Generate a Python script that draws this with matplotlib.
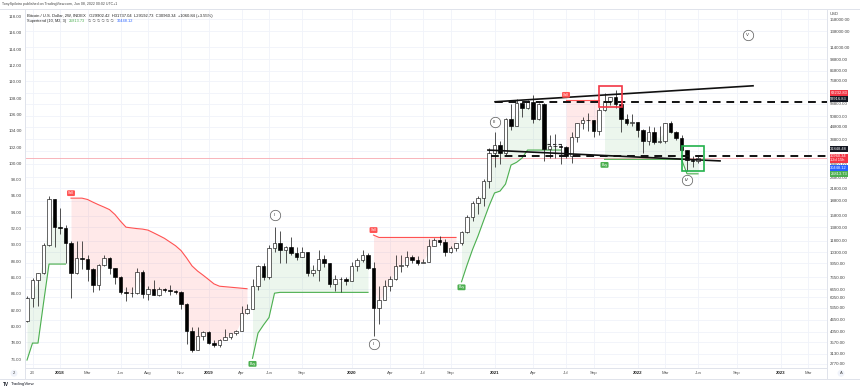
import numpy as np
import matplotlib
matplotlib.use("Agg")
import matplotlib.pyplot as plt
import matplotlib.transforms as mtransforms
from matplotlib.lines import Line2D
from matplotlib.patches import Rectangle
from matplotlib.ticker import NullLocator

plt.rcParams['font.family'] = ['Liberation Sans', 'DejaVu Sans']

# Bitcoin / U.S. Dollar, 2W candles. bar -1 = week of 9 Oct 2017, bar 121 = 6 Jun 2022
opens = [4600, 5980, 7400, 8050, 11250, 19100,
         13850, 13600, 11500, 8100, 9600, 9550, 8450, 7000, 8900, 9650, 8500, 7700, 6450, 6380,
         6350, 8200, 6300, 6700, 6250, 6700, 6600, 6550, 6450, 5600, 4100, 3250, 3850,
         4050, 3550, 3450, 3650, 3800, 3980, 4100, 5050, 5300, 6950, 8750, 7650, 10750, 11400,
         10600, 10900, 10250, 9750, 10300, 8100, 8300, 9550, 9050, 7050, 7550, 7500,
         7350, 8700, 9350, 9900, 8550, 5350, 5900, 6900, 7550, 8750, 8800, 9750, 9350, 9100,
         9200, 11100, 11900, 11650, 10350, 10750, 11400, 13050, 15500, 18400, 19350, 23800,
         33000, 36000, 33100, 48900, 45200, 59000, 55800, 60000, 49100, 58300, 34700, 35800,
         35600, 35300, 31800, 39900, 47000, 48800, 48300, 42800, 54700, 60900, 63300, 58700,
         49400, 46700,
         47300, 43100, 37900, 42200, 37700, 37800, 46800, 42200, 39500, 34100, 30300, 29902.42]
highs = [6180, 7600, 8100, 11400, 19800, 19200,
         17200, 14100, 11700, 11800, 11700, 9900, 8500, 9000, 9950, 9700, 8550, 7800, 6800, 6850,
         8500, 8300, 6900, 7400, 6800, 6750, 7000, 6600, 6550, 5650, 4300, 4300, 4100,
         4100, 3650, 3700, 4200, 4000, 4150, 5450, 5600, 7500, 8800, 9100, 11200, 13800, 13200,
         11100, 12300, 10950, 10900, 10350, 8900, 10500, 9900, 9100, 7850, 7650, 7700,
         9200, 9600, 10500, 10250, 9200, 6900, 7450, 7800, 10000, 9950, 10400, 10000, 9800, 9450,
         12000, 12100, 12450, 12050, 11100, 11450, 13250, 15950, 18800, 19900, 24300, 34800,
         41950, 37800, 49700, 58350, 61800, 61000, 61200, 64900, 59500, 59600, 40900, 41300,
         36700, 35900, 42300, 47100, 50500, 52900, 48800, 56500, 67000, 63700, 69000, 59300,
         51900, 52000,
         47500, 43500, 45000, 44800, 45400, 47000, 48200, 42900, 40800, 34300, 31900, 31737.04]
lows = [4550, 5400, 5500, 8000, 11000, 10900,
        12800, 9100, 6000, 8000, 8400, 7300, 6450, 6600, 8700, 8000, 7050, 6300, 5800, 6050,
        6300, 6000, 5900, 6200, 6150, 6450, 6200, 6300, 5300, 3500, 3200, 3250, 3650,
        3500, 3400, 3380, 3650, 3700, 3900, 4100, 5000, 5300, 6600, 7450, 7550, 10300, 9100,
        9100, 9900, 9350, 9700, 7750, 7800, 7350, 8650, 6800, 6550, 6450, 7000,
        7300, 8250, 9150, 8450, 3850, 4450, 5850, 6500, 7450, 8200, 8650, 9100, 8850, 9050,
        9150, 11000, 11200, 9850, 10150, 10400, 11200, 12900, 14800, 16200, 17600, 21900,
        28000, 29000, 32300, 43000, 45000, 50400, 55000, 47000, 48800, 30000, 31000, 31000,
        28800, 31000, 29300, 37400, 43900, 42800, 40000, 40700, 53900, 58000, 55600, 42000,
        45600, 45500,
        39600, 32900, 36300, 36800, 37100, 37200, 41900, 38600, 33700, 26700, 28000, 29192.73]
closes = [5980, 7400, 8050, 11250, 19100, 13850,
          13600, 11500, 8100, 9600, 9550, 8450, 7000, 8900, 9650, 8500, 7700, 6450, 6380, 6350,
          8200, 6300, 6700, 6250, 6700, 6600, 6550, 6450, 5600, 4100, 3250, 3850, 4050,
          3550, 3450, 3650, 3800, 3980, 4100, 5050, 5300, 6950, 8750, 7650, 10750, 11400, 10600,
          10900, 10250, 9750, 10300, 8100, 8300, 9550, 9050, 7050, 7550, 7500, 7350,
          8700, 9350, 9900, 8550, 5350, 5900, 6900, 7550, 8750, 8800, 9750, 9350, 9100, 9200,
          11100, 11900, 11650, 10350, 10750, 11400, 13050, 15500, 18400, 19350, 23800, 33000,
          36000, 33100, 48900, 45200, 59000, 55800, 60000, 49100, 58300, 34700, 35800, 35600,
          35300, 31800, 39900, 47000, 48800, 48300, 42800, 54700, 60900, 63300, 58700, 49400,
          46700, 47300,
          43100, 37900, 42200, 37700, 37800, 46800, 42200, 39500, 34100, 30300, 29902.42, 30960.34]
first_bar = -1

# Supertrend segments (first bar, values)
up_segments = [
    (-1, [2900, 3540, 3540, 5660, 8950, 8950, 8950, 8950]),
    (40, [2960, 3980, 4380, 4780, 6360] + [6420] * 17),
    (78, [7270, 8840, 10610, 12450, 14860, 17690, 20620, 21080, 22890, 28620, 29540, 31060]
         + [34120] * 7),
    (104, [30600] * 15 + [25813.73] * 3),
]
down_segments = [
    (7, [19400, 19400, 19400, 19100, 18500, 17960, 17470, 16960, 16000, 14800, 13800, 13680,
         13570, 13490, 13330, 12920, 12510, 12100, 11590, 11100, 10490, 9630, 8760, 8250,
         7860, 7470, 7090, 6900, 6860, 6820, 6780, 6740, 6700]),
    (62, [12580] + [12230] * 15),
    (97, [61500] * 7),
]

# time axis
tick_bars = [0, 5, 10, 16, 21, 27, 32, 38, 43, 49, 58, 65, 71, 76, 84, 91, 97, 102,
             110, 115, 121, 128, 136, 141]
tick_labels = ["23", "2018", "Mar", "Jun", "Aug", "Nov", "2019", "Apr", "Jun", "Sep",
               "2020", "Apr", "Jul", "Sep", "2021", "Apr", "Jul", "Sep", "2022", "Mar",
               "Jun", "Sep", "2023", "Mar"]

price_ticks = [158000, 138000, 114000, 98800, 86800, 76800, 66800, 58800, 50800, 44800,
               38800, 33800, 28800, 24800, 21800, 18800, 15800, 13800, 11800, 10300, 9050,
               7650, 6650, 6050, 5350, 4650, 4050, 3570, 3130, 2770]
left_ticks = list(range(76, 120, 2))

# drawings
trend_upper = ([84.1, 131.0], [60140, 72550])
trend_lower = ([82.8, 125.0], [34120, 30040])
hlines = [(84.1, 59916.83), (83.4, 31848.48)]
short_dash = ([93.5, 96.2], [36600, 36600])
red_box = (103.0, 107.1, 56300, 72550)
green_box = (118.0, 122.1, 26760, 35880)
waves = [("I", 44, 15920), ("II", 62, 3490), ("III", 84, 47560), ("IV", 119, 24000),
         ("V", 130, 131900)]
signals = [("Sell", 7), ("Buy", 40), ("Sell", 62), ("Buy", 78), ("Sell", 97), ("Buy", 104)]
tags = [("63232.83", 63232.83, "#f23645", -4.4), ("59916.83", 59916.83, "#131722", -3.0),
        ("31848.48", 31848.48, "#131722", -7.0), ("30960.34\n12d 15h", 30960.34, "#f23645", 0.0),
        ("30448.12", 30448.12, "#2962ff", 8.2), ("25813.73", 25813.73, "#4caf50", 0.0)]

W, H = 860, 390
fig = plt.figure(figsize=(W / 100, H / 100), dpi=100)


def fx(px):
    return px / W


def fy(py):
    return 1 - py / H


ax = fig.add_axes([fx(25), fy(368), fx(827) - fx(25), fy(9) - fy(368)])
ax2 = ax.twinx()
ax.set_yscale('log')
ax.set_ylim(2642, 178700)
ax.set_xlim(-1.364, 144.45)

o = np.array(opens, float)
h = np.array(highs, float)
l = np.array(lows, float)
c = np.array(closes, float)
x = np.arange(first_bar, first_bar + len(o))
mid = (o + h + l + c) / 4

# supertrend lines and fills
for start, vals in up_segments:
    xs = np.arange(start, start + len(vals))
    m = mid[xs - first_bar]
    ax.fill_between(xs, vals, m, color='#4caf50', alpha=0.1, lw=0, zorder=1)
    ax.plot(xs, vals, color='#4caf50', lw=0.8, zorder=2)
for start, vals in down_segments:
    xs = np.arange(start, start + len(vals))
    m = mid[xs - first_bar]
    ax.fill_between(xs, vals, m, color='#ff5252', alpha=0.12, lw=0, zorder=1)
    ax.plot(xs, vals, color='#ff5252', lw=0.8, zorder=2)

# price line
ax.axhline(closes[-1], color='#f7a8b0', lw=0.6, zorder=1.5)

# candles
up = c >= o
ax.vlines(x, l, h, color='#222222', lw=0.55, zorder=3)
ax.bar(x[up], c[up] - o[up], bottom=o[up], width=0.62, color='white', edgecolor='#111111',
       lw=0.45, zorder=4)
ax.bar(x[~up], o[~up] - c[~up], bottom=c[~up], width=0.62, color='#000000', edgecolor='#000000',
       lw=0.45, zorder=4)

# drawings
ax.plot(*trend_upper, color='#111111', lw=1.2, zorder=6)
ax.plot(*trend_lower, color='#111111', lw=1.2, zorder=6)
for x0, p in hlines:
    ax.plot([x0, 144.45], [p, p], color='#111111', lw=1.4, ls=(0, (4, 3)), zorder=6)
ax.plot(*short_dash, color='#333333', lw=0.8, ls=(0, (3, 2)), zorder=6)
for (x0, x1, p0, p1), col in [(red_box, '#f23645'), (green_box, '#22b14c')]:
    ax.add_patch(Rectangle((x0, p0), x1 - x0, p1 - p0, fill=False, ec=col, lw=1.2, zorder=7))

for txt, b, p in waves:
    ax.plot(b, p, marker='o', ms=7.5, mfc='white', mec='#555555', mew=0.5, zorder=8)
    ax.text(b, p, txt, ha='center', va='center', fontsize=3.2, color='#333333', zorder=9)

up_start = {s: v[0] for s, v in up_segments}
dn_start = {s: v[0] for s, v in down_segments}
for kind, b in signals:
    if kind == "Buy":
        p, dy, col = up_start[b], -4.0, '#4caf50'
    else:
        p, dy, col = dn_start[b], 3.6, '#ff5252'
    ax.annotate(kind, (b, p), xytext=(0, dy), textcoords='offset points', ha='center',
                va='center', fontsize=2.6, color='white', zorder=9,
                bbox=dict(boxstyle='round,pad=0.25,rounding_size=0.3', fc=col, ec='none'))

# axes styling
ax.yaxis.tick_right()
ax.yaxis.set_minor_locator(NullLocator())
ax.set_yticks(price_ticks)
ax.set_yticklabels([f"{v:.2f}" for v in price_ticks])
ax.tick_params(axis='y', which='both', left=False, labelleft=False, right=False,
               labelright=True, length=0, pad=2.2, labelsize=3.2, labelcolor='#444444')
ax.set_xticks(tick_bars)
ax.set_xticklabels(tick_labels)
ax.tick_params(axis='x', length=0, pad=2.0, labelsize=3.2, labelcolor='#555555')
for lab in ax.get_xticklabels():
    if lab.get_text().startswith('20'):
        lab.set_fontweight('bold')
        lab.set_color('#222222')
ax.grid(True, color='#f0f3fa', lw=0.6, zorder=0)
ax.set_axisbelow(True)
for sp in ax.spines.values():
    sp.set_color('#e0e3eb')
    sp.set_linewidth(0.7)

ax2.set_ylim(74.9, 118.94)
ax2.set_yticks(left_ticks)
ax2.set_yticklabels([f"{v:.2f}" for v in left_ticks])
ax2.tick_params(axis='y', left=False, labelleft=True, right=False, labelright=False,
                length=0, pad=2.2, labelsize=3.2, labelcolor='#444444')
for sp in ax2.spines.values():
    sp.set_visible(False)

# price tags on right axis
blend = mtransforms.blended_transform_factory(ax.transAxes, ax.transData)
for txt, p, col, dpx in tags:
    ax.annotate(txt, (1.0, p), xycoords=blend, xytext=(2.4, -dpx / 1.389),
                textcoords='offset points', ha='left', va='center', fontsize=2.9,
                color='white', linespacing=1.0, annotation_clip=False, zorder=10,
                bbox=dict(boxstyle='square,pad=0.18', fc=col, ec='none'))

# frame lines and texts outside the plot
fig.add_artist(Line2D([0, 1], [fy(378.5), fy(378.5)], color='#e0e3eb', lw=0.7))
fig.add_artist(Line2D([fx(25), fx(25)], [fy(378.5), fy(9)], color='#e0e3eb', lw=0.7))
fig.add_artist(Line2D([fx(827), fx(827)], [fy(378.5), fy(9)], color='#e0e3eb', lw=0.7))
fig.add_artist(Line2D([0, 1], [fy(9), fy(9)], color='#e0e3eb', lw=0.7))

fig.text(fx(2), fy(4), "TonySpilotro published on TradingView.com, Jun 08, 2022 00:02 UTC+1",
         fontsize=2.6, color='#444444', va='center')
fig.text(fx(27), fy(15.5), "Bitcoin / U.S. Dollar, 2W, INDEX   O29902.42  H31737.04  "
         "L29192.73  C30960.34  +1060.84 (+3.55%)", fontsize=3.0, color='#222222', va='center')

# second legend line, pieces placed one after another
renderer = fig.canvas.get_renderer()
xpos = 27
for txt, col in [("Supertrend (10, M2, 3)", '#222222'), ("25813.73", '#4caf50'),
                 ("\u2205 \u2205 \u2205 \u2205 \u2205 \u2205", '#555555'),
                 ("30448.12", '#2962ff')]:
    t = fig.text(fx(xpos), fy(20.8), txt, fontsize=2.8, color=col, va='center')
    xpos += t.get_window_extent(renderer).width + 3

fig.text(fx(830), fy(14), "USD", fontsize=3.0, color='#444444', va='center')
fig.text(fx(14), fy(373.3), "2", fontsize=3.0, color='#444444', va='center', ha='center',
         bbox=dict(boxstyle='circle,pad=0.35', fc='#f0f3fa', ec='none'))
fig.text(fx(841), fy(373.3), "A", fontsize=3.0, color='#444444', va='center', ha='center',
         bbox=dict(boxstyle='circle,pad=0.35', fc='#f0f3fa', ec='none'))
fig.text(fx(3), fy(384.5), "TV", fontsize=3.4, color='#131722', va='center', fontweight='bold')
fig.text(fx(11), fy(384.5), "TradingView", fontsize=3.2, color='#131722', va='center')

fig.savefig("out.png", dpi=100)
